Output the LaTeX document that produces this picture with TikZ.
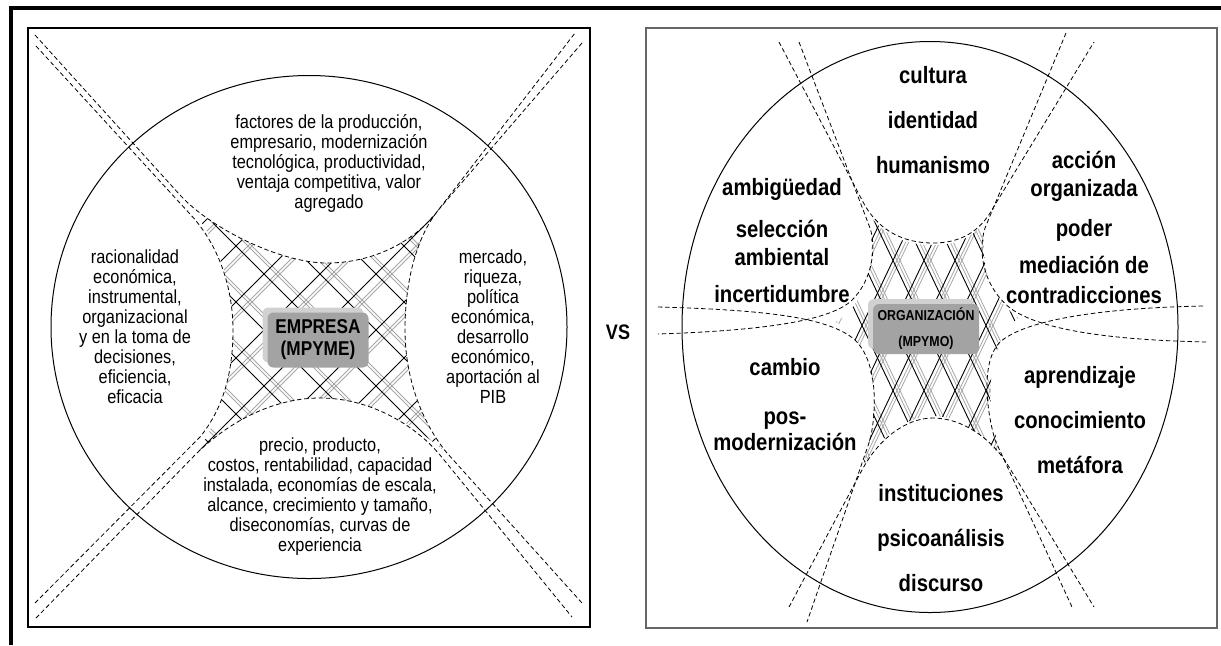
\documentclass[tikz,border=0pt]{standalone}
\usepackage{fontspec}
\setmainfont{Liberation Sans}[FakeStretch=0.86]
\usetikzlibrary{shadows}

\begin{document}
\begin{tikzpicture}[x=0.5pt,y=-0.5pt,
    dashline/.style={line width=0.4pt, dash pattern=on 2.2pt off 1.4pt},
    hatchblack/.style={line width=0.45pt},
    hatchgray/.style={line width=0.4pt, black!35},
    plain/.style={font=\fontsize{9.5}{10}\selectfont, align=center, inner sep=0pt},
    heavy/.style={font=\fontsize{11.8}{14}\selectfont\bfseries, align=center, inner sep=0pt},
    bevelbox/.style={fill=black!36, rounded corners=3pt, align=center, inner sep=0pt,
        general shadow={shadow xshift=-2.5pt, shadow yshift=2.5pt, fill=black!18}}]
    \useasboundingbox (0,0) rectangle (1221,645);
    % frame and panels
    \draw[line width=2pt] (11,645) -- (11,8) -- (1221,8);
    \draw[line width=0.6pt] (28,28) rectangle (590,627);
    \draw[line width=0.9pt, black!60] (646,28) rectangle (1217,628);

    % left panel: empresa
    \draw[line width=0.5pt] (309,327) ellipse [x radius=129pt, y radius=125.75pt];
    \begin{scope}
        \clip (183,198) .. controls (212,230) and (280,263) .. (327,263) .. controls (375,263) and (414,240) .. (438,210)
            .. controls (413,245) and (405,290) .. (405,330) .. controls (405,375) and (420,420) .. (445,452)
            .. controls (415,425) and (370,398) .. (320,398) .. controls (270,398) and (226,425) .. (198,452)
            .. controls (222,412) and (233,375) .. (233,330) .. controls (233,290) and (222,243) .. (183,198) -- cycle;
        \foreach \k in {-6,...,6} {
            \draw[hatchgray] ({2+56*\k},0) -- ++(650,650) ({6+56*\k},0) -- ++(650,650);
            \draw[hatchgray] ({662+56*\k},0) -- ++(-650,650) ({666+56*\k},0) -- ++(-650,650);
        }
        \foreach \k in {-6,...,6} {
            \draw[hatchblack] ({-10+56*\k},0) -- ++(650,650);
            \draw[hatchblack] ({650+56*\k},0) -- ++(-650,650);
        }
    \end{scope}
    \draw[dashline] (35,35) -- (180,195) .. controls (210,228) and (280,263) .. (327,263) .. controls (375,263) and (415,240) .. (436,213) -- (575,33);
    \draw[dashline] (582,43) -- (440,208) .. controls (413,240) and (405,290) .. (405,330) .. controls (405,375) and (420,420) .. (447,453) -- (582,603);
    \draw[dashline] (36,46) -- (190,214) .. controls (220,246) and (233,290) .. (233,330) .. controls (233,375) and (222,410) .. (200,437) -- (35,603);
    \draw[dashline] (36,618) -- (195,455) .. controls (225,425) and (270,398) .. (320,398) .. controls (370,398) and (415,425) .. (440,455) -- (572,617);

    \node[plain] (factores) at (329,163) {factores de la producción,\\empresario, modernización\\tecnológica, productividad,\\ventaja competitiva, valor\\agregado};
    \node[plain] (racional) at (135,327) {racionalidad\\económica,\\instrumental,\\organizacional\\y en la toma de\\decisiones,\\eficiencia,\\eficacia};
    \node[plain] (mercado) at (493,327) {mercado,\\riqueza,\\política\\económica,\\desarrollo\\económico,\\aportación al\\PIB};
    \node[plain] (precio) at (320,497) {precio, producto,\\costos, rentabilidad, capacidad\\instalada, economías de escala,\\alcance, crecimiento y tamaño,\\diseconomías, curvas de\\experiencia};
    \node[bevelbox, minimum width=50.5pt, minimum height=27.5pt, font=\fontsize{10}{11}\selectfont\bfseries] (empresa) at (318,340) {EMPRESA\\(MPYME)};

    \node[font=\fontsize{10.5}{12}\selectfont\bfseries, inner sep=0pt] (vs) at (618,332) {VS};

    % right panel: organizacion
    \draw[line width=0.5pt] (930,327) ellipse [x radius=124pt, y radius=142.75pt];
    \begin{scope}
        \clip (866,210) .. controls (882,236) and (905,245) .. (933,245) .. controls (960,245) and (978,236) .. (990,212)
            .. controls (978,250) and (982,290) .. (1018,318) .. controls (990,340) and (980,400) .. (1004,462)
            .. controls (988,438) and (962,416) .. (933,416) .. controls (905,416) and (878,438) .. (862,468)
            .. controls (882,405) and (878,350) .. (836,322) .. controls (872,300) and (878,245) .. (866,210) -- cycle;
        \foreach \k in {-6,...,6} {
            \draw[hatchgray] ({773+31*\k},0) -- ++(310,651) ({776+31*\k},0) -- ++(310,651);
            \draw[hatchgray] ({1083+31*\k},0) -- ++(-310,651) ({1086+31*\k},0) -- ++(-310,651);
        }
        \foreach \k in {-6,...,6} {
            \draw[hatchblack] ({769+31*\k},0) -- ++(310,651);
            \draw[hatchblack] ({1079+31*\k},0) -- ++(-310,651);
        }
    \end{scope}
    \draw[dashline] (779,42) -- (862,200) .. controls (878,232) and (905,243) .. (933,243) .. controls (960,243) and (980,232) .. (993,208) -- (1094,42);
    \draw[dashline] (799,42) -- (870,228) .. controls (876,245) and (874,280) .. (850,302) .. controls (830,318) and (780,330) .. (658,334);
    \draw[dashline] (658,307) .. controls (770,310) and (830,318) .. (855,340) .. controls (876,360) and (878,405) .. (870,440) -- (807,622);
    \draw[dashline] (789,607) -- (862,470) .. controls (878,440) and (905,418) .. (933,418) .. controls (962,418) and (990,438) .. (1006,462) -- (1094,607);
    \draw[dashline] (1066,33) -- (985,228) .. controls (978,250) and (982,285) .. (1010,308) .. controls (1040,330) and (1110,340) .. (1207,342);
    \draw[dashline] (1203,306) .. controls (1100,308) and (1025,320) .. (1000,342) .. controls (982,360) and (985,405) .. (995,440) -- (1072,607);

    \node[heavy] (cultura) at (933,120) {cultura\\[8.5pt]identidad\\[8.5pt]humanismo};
    \node[heavy] (ambiguedad) at (782,241) {ambigüedad\\[7pt]selección\\ambiental\\[4.5pt]incertidumbre};
    \node[heavy] (accion) at (1084,227) {acción\\organizada\\[6pt]poder\\[4.5pt]mediación de\\[1pt]contradicciones};
    \node[heavy] (cambio) at (785,405) {cambio\\[10.5pt]pos-\\[-1pt]modernización};
    \node[heavy] (aprendizaje) at (1080,420) {aprendizaje\\[8.5pt]conocimiento\\[8.5pt]metáfora};
    \node[heavy] (instituciones) at (941,538) {instituciones\\[8.5pt]psicoanálisis\\[8.5pt]discurso};
    \node[bevelbox, minimum width=53pt, minimum height=25pt, font=\fontsize{7.2}{13}\selectfont\bfseries] (organizacion) at (926,329) {ORGANIZACIÓN\\(MPYMO)};
\end{tikzpicture}
\end{document}
